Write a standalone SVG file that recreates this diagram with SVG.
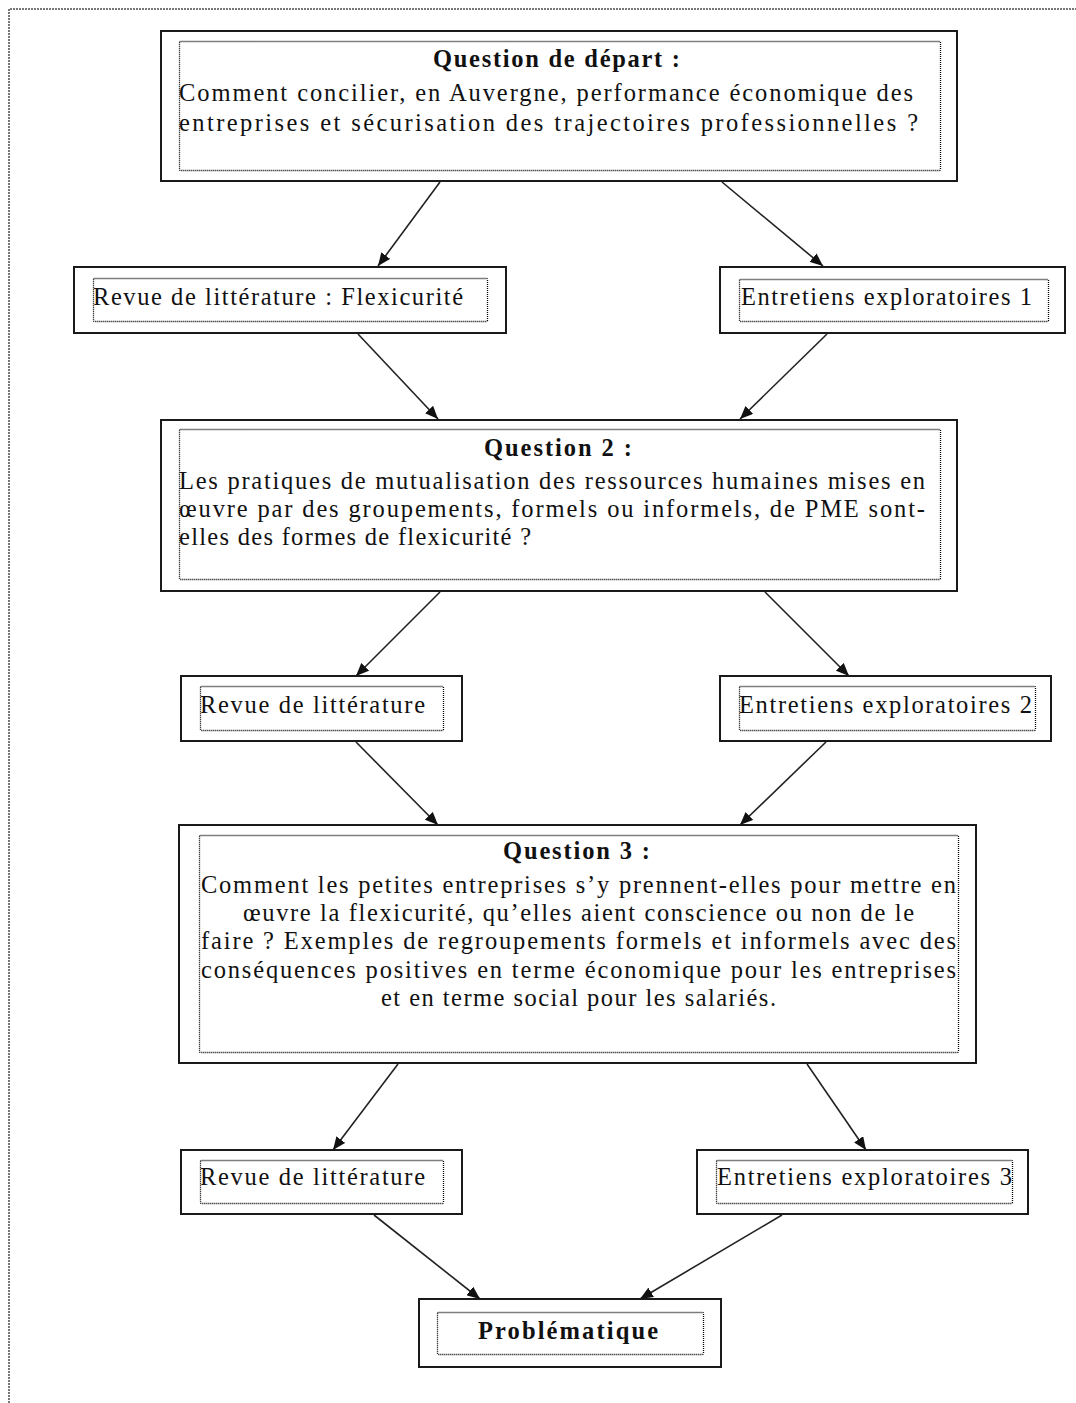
<svg xmlns="http://www.w3.org/2000/svg" width="1076" height="1403" viewBox="0 0 1076 1403">
  <style>
    .frame { fill: none; stroke: #777; stroke-width: 2; stroke-dasharray: 2 1; }
    .box { fill: #fff; stroke: #1a1a1a; stroke-width: 2; }
    .inner { fill: none; stroke: #000; stroke-width: 1.3; stroke-dasharray: 1 1; }
    .t { font-family: "Liberation Serif", "Times New Roman", serif; font-size: 24.5px; fill: #111; }
    .b { font-weight: bold; }
    .link { fill: none; stroke: #222; stroke-width: 1.6; }
  </style>
  <defs>
    <marker id="arrow" viewBox="0 0 13 11" refX="13" refY="5.5" markerWidth="13" markerHeight="11" markerUnits="userSpaceOnUse" orient="auto">
      <path d="M0,0 L13,5.5 L0,11 z" fill="#111"/>
    </marker>
  </defs>

  <rect width="1076" height="1403" fill="#fff"/>

  <!-- page frame: top and left edges only -->
  <path class="frame" d="M9,1403 V9 H1076"/>

  <!-- connectors -->
  <g id="connectors">
    <line class="link" x1="440" y1="182" x2="378" y2="266" marker-end="url(#arrow)"/>
    <line class="link" x1="722" y1="182" x2="823" y2="266" marker-end="url(#arrow)"/>
    <line class="link" x1="358" y1="334" x2="438" y2="419" marker-end="url(#arrow)"/>
    <line class="link" x1="827" y1="334" x2="740" y2="419" marker-end="url(#arrow)"/>
    <line class="link" x1="440" y1="592" x2="356" y2="676" marker-end="url(#arrow)"/>
    <line class="link" x1="765" y1="592" x2="849" y2="676" marker-end="url(#arrow)"/>
    <line class="link" x1="356" y1="742" x2="438" y2="825" marker-end="url(#arrow)"/>
    <line class="link" x1="826" y1="742" x2="740" y2="825" marker-end="url(#arrow)"/>
    <line class="link" x1="398" y1="1064" x2="333" y2="1150" marker-end="url(#arrow)"/>
    <line class="link" x1="807" y1="1064" x2="866" y2="1150" marker-end="url(#arrow)"/>
    <line class="link" x1="374" y1="1215" x2="480" y2="1299" marker-end="url(#arrow)"/>
    <line class="link" x1="782" y1="1215" x2="640" y2="1299" marker-end="url(#arrow)"/>
  </g>

  <!-- starting question -->
  <g id="q-depart">
    <rect class="box" x="161" y="31" width="796" height="150"/>
    <rect class="inner" x="179.5" y="41.5" width="761" height="129" rx="1"/>
    <text class="t b" x="433" y="67" textLength="247" lengthAdjust="spacing">Question de départ :</text>
    <text class="t" x="179" y="101" textLength="734" lengthAdjust="spacing">Comment concilier, en Auvergne, performance économique des</text>
    <text class="t" x="179" y="131" textLength="739" lengthAdjust="spacing">entreprises et sécurisation des trajectoires professionnelles ?</text>
  </g>

  <g id="revue-1">
    <rect class="box" x="74" y="267" width="432" height="66"/>
    <rect class="inner" x="93.5" y="278.5" width="394" height="43" rx="1"/>
    <text class="t" x="93" y="305" textLength="370" lengthAdjust="spacing">Revue de littérature : Flexicurité</text>
  </g>

  <g id="entretiens-1">
    <rect class="box" x="720" y="267" width="345" height="66"/>
    <rect class="inner" x="739.5" y="279.5" width="309" height="42" rx="1"/>
    <text class="t" x="741" y="305" textLength="291" lengthAdjust="spacing">Entretiens exploratoires 1</text>
  </g>

  <g id="question-2">
    <rect class="box" x="161" y="420" width="796" height="171"/>
    <rect class="inner" x="179.5" y="429.5" width="761" height="150" rx="1"/>
    <text class="t b" x="484" y="456" textLength="148" lengthAdjust="spacing">Question 2 :</text>
    <text class="t" x="179" y="489" textLength="746" lengthAdjust="spacing">Les pratiques de mutualisation des ressources humaines mises en</text>
    <text class="t" x="179" y="517" textLength="746" lengthAdjust="spacing">œuvre par des groupements, formels ou informels, de PME sont-</text>
    <text class="t" x="179" y="545" textLength="352" lengthAdjust="spacing">elles des formes de flexicurité ?</text>
  </g>

  <g id="revue-2">
    <rect class="box" x="181" y="676" width="281" height="65"/>
    <rect class="inner" x="200.5" y="686.5" width="243" height="44" rx="1"/>
    <text class="t" x="200" y="713" textLength="225" lengthAdjust="spacing">Revue de littérature</text>
  </g>

  <g id="entretiens-2">
    <rect class="box" x="720" y="676" width="331" height="65"/>
    <rect class="inner" x="739.5" y="686.5" width="296" height="44" rx="1"/>
    <text class="t" x="739" y="713" textLength="293" lengthAdjust="spacing">Entretiens exploratoires 2</text>
  </g>

  <g id="question-3">
    <rect class="box" x="179" y="825" width="797" height="238"/>
    <rect class="inner" x="199.5" y="835.5" width="759" height="217" rx="1"/>
    <text class="t b" x="503" y="859" textLength="147" lengthAdjust="spacing">Question 3 :</text>
    <text class="t" x="201" y="893" textLength="755" lengthAdjust="spacing">Comment les petites entreprises s’y prennent-elles pour mettre en</text>
    <text class="t" x="243" y="921" textLength="671" lengthAdjust="spacing">œuvre la flexicurité, qu’elles aient conscience ou non de le</text>
    <text class="t" x="201" y="949" textLength="755" lengthAdjust="spacing">faire ? Exemples de regroupements formels et informels avec des</text>
    <text class="t" x="201" y="978" textLength="755" lengthAdjust="spacing">conséquences positives en terme économique pour les entreprises</text>
    <text class="t" x="381" y="1006" textLength="395" lengthAdjust="spacing">et en terme social pour les salariés.</text>
  </g>

  <g id="revue-3">
    <rect class="box" x="181" y="1150" width="281" height="64"/>
    <rect class="inner" x="200.5" y="1160.5" width="243" height="43" rx="1"/>
    <text class="t" x="200" y="1185" textLength="225" lengthAdjust="spacing">Revue de littérature</text>
  </g>

  <g id="entretiens-3">
    <rect class="box" x="697" y="1150" width="331" height="64"/>
    <rect class="inner" x="716.5" y="1160.5" width="296" height="43" rx="1"/>
    <text class="t" x="717" y="1185" textLength="295" lengthAdjust="spacing">Entretiens exploratoires 3</text>
  </g>

  <g id="problematique">
    <rect class="box" x="419" y="1299" width="302" height="68"/>
    <rect class="inner" x="437.5" y="1312.5" width="266" height="42" rx="1"/>
    <text class="t b" x="478" y="1339" textLength="180" lengthAdjust="spacing">Problématique</text>
  </g>
</svg>
